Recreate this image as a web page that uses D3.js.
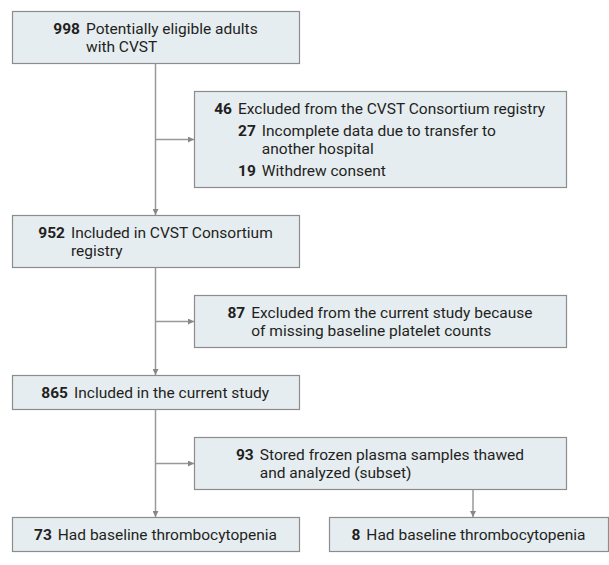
<!DOCTYPE html>
<html>
<head>
<meta charset="utf-8">
<script src="https://cdn.jsdelivr.net/npm/d3@7"></script>
<style>
  body { margin: 0; background: #fff; }
  svg text { font-family: Roboto, "Liberation Sans Narrow", sans-serif; fill: #231f20; }
</style>
</head>
<body>
<svg id="drawing_region"></svg>
<script>
// flow counts and labels
const mainCounts = ["998", "952", "865"];
const mainLabels = [
    ["Potentially eligible adults", "with CVST"],
    ["Included in CVST Consortium", "registry"],
    ["Included in the current study"]
];
const exclCounts = ["46", "87", "93"];
const exclLabels = [
    ["Excluded from the CVST Consortium registry"],
    ["Excluded from the current study because", "of missing baseline platelet counts"],
    ["Stored frozen plasma samples thawed", "and analyzed (subset)"]
];
const subCounts = ["27", "19"];
const subLabels = [
    ["Incomplete data due to transfer to", "another hospital"],
    ["Withdrew consent"]
];
const outCounts = ["73", "8"];
const outLabels = [
    ["Had baseline thrombocytopenia"],
    ["Had baseline thrombocytopenia"]
];

const config = {
    width: 609,
    height: 565,
    fontSize: 15.5,
    lineH: 18,
    pad: 8,
    itemGap: 4,
    rowGap: 28,
    top: 11,
    fill: '#e6edf1',
    stroke: '#8c8c8c',
    link: '#999999'
};

const svg = d3.select('#drawing_region')
    .attr('width', config.width)
    .attr('height', config.height);

svg.append('defs').append('marker')
    .attr('id', 'arrow')
    .attr('viewBox', '0 0 10 10')
    .attr('refX', 10).attr('refY', 5)
    .attr('markerWidth', 7).attr('markerHeight', 6)
    .attr('markerUnits', 'userSpaceOnUse')
    .attr('orient', 'auto')
    .append('path')
    .attr('d', 'M0,0 L10,5 L0,10 Z')
    .attr('fill', '#888');

// columns
const col = {
    main: {x: 12, w: 287},
    side: {x: 194, w: 372},
    out2: {x: 329, w: 279}
};

// build node list in flow order
const nodes = [];
mainCounts.forEach((c, i) => {
    nodes.push({key: 'main' + i, col: col.main, items: [{count: c, lines: mainLabels[i]}]});
    const items = [{count: exclCounts[i], lines: exclLabels[i]}];
    if (i === 0) subCounts.forEach((s, j) => items.push({count: s, lines: subLabels[j], sub: true}));
    nodes.push({key: 'side' + i, col: col.side, items: items});
});
nodes.push({key: 'out0', col: col.main, items: [{count: outCounts[0], lines: outLabels[0]}]});
nodes.push({key: 'out1', col: col.out2, items: [{count: outCounts[1], lines: outLabels[1]}], sameRow: true});

// stack vertically
let y = config.top;
let prev = null;
nodes.forEach(n => {
    const nLines = d3.sum(n.items, d => d.lines.length);
    n.h = config.pad * 2 + nLines * config.lineH + (n.items.length - 1) * config.itemGap;
    n.y = n.sameRow ? prev.y : y;
    n.x = n.col.x;
    n.w = n.col.w;
    y = n.y + n.h + config.rowGap;
    prev = n;
});
const byKey = {};
nodes.forEach(n => byKey[n.key] = n);

// boxes
const g = svg.selectAll('g.node')
    .data(nodes)
    .join('g')
    .attr('class', 'node');

g.append('rect')
    .attr('x', d => d.x + 0.5)
    .attr('y', d => d.y + 0.5)
    .attr('width', d => d.w)
    .attr('height', d => d.h)
    .attr('fill', config.fill)
    .attr('stroke', config.stroke)
    .attr('stroke-width', 1.2);

// text block, centred in box
g.each(function(n) {
    const box = d3.select(this);
    const block = box.append('g');
    let ty = n.y + config.pad + 15;
    let indent = 0;
    n.items.forEach((item, k) => {
        const x0 = item.sub ? indent : 0;
        const num = block.append('text')
            .attr('x', x0).attr('y', ty)
            .attr('font-size', config.fontSize)
            .attr('font-weight', 'bold')
            .text(item.count);
        const lx = x0 + num.node().getComputedTextLength() + 6;
        if (k === 0) indent = lx;
        item.lines.forEach((line, j) => {
            block.append('text')
                .attr('x', lx).attr('y', ty + j * config.lineH)
                .attr('font-size', config.fontSize)
                .text(line);
        });
        ty += item.lines.length * config.lineH + config.itemGap;
    });
    const bw = block.node().getBBox().width;
    block.attr('transform', `translate(${n.x + (n.w - bw) / 2},0)`);
});

// connectors
const links = svg.append('g')
    .attr('stroke', config.link)
    .attr('stroke-width', 1.5)
    .attr('fill', 'none');

const trunkX = col.main.x + col.main.w / 2;
const steps = [['main0', 'main1', 'side0'], ['main1', 'main2', 'side1'], ['main2', 'out0', 'side2']];
steps.forEach(([a, b, s]) => {
    const A = byKey[a], B = byKey[b], S = byKey[s];
    links.append('line')
        .attr('x1', trunkX).attr('y1', A.y + A.h + 0.5)
        .attr('x2', trunkX).attr('y2', B.y)
        .attr('marker-end', 'url(#arrow)');
    const my = S.y + S.h / 2 + 0.5;
    links.append('line')
        .attr('x1', trunkX).attr('y1', my)
        .attr('x2', S.x)
        .attr('y2', my)
        .attr('marker-end', 'url(#arrow)');
});
const S2 = byKey.side2, O1 = byKey.out1;
const bx = S2.x + S2.w * 0.75;
links.append('line')
    .attr('x1', bx).attr('y1', S2.y + S2.h + 0.5)
    .attr('x2', bx).attr('y2', O1.y)
    .attr('marker-end', 'url(#arrow)');
</script>
</body>
</html>
